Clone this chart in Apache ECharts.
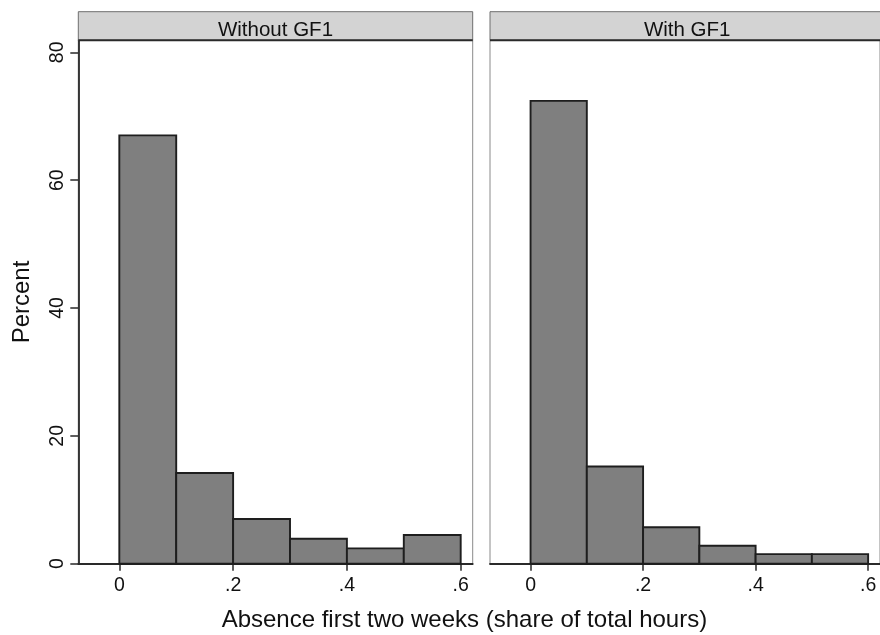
<!DOCTYPE html>
<html>
<head>
<meta charset="utf-8">
<script src="https://cdn.jsdelivr.net/npm/echarts@6/dist/echarts.min.js"></script>
<style>
html,body{margin:0;padding:0;background:#fff;}
#chart{width:880px;height:635px;}
</style>
</head>
<body>
<div id="chart"></div>
<script>
// ---- data ----
const binEdges = [0, 0.1, 0.2, 0.3, 0.4, 0.5, 0.6];
const panelTitles = ['Without GF1', 'With GF1'];
const pctWithoutGF1 = [67.0, 14.2, 7.0, 3.9, 2.4, 4.5];
const pctWithGF1 = [72.4, 15.2, 5.7, 2.8, 1.5, 1.5];
const xTicks = [0, 0.2, 0.4, 0.6];
const xTickLabels = ['0', '.2', '.4', '.6'];
const yTicks = [0, 20, 40, 60, 80];
const yTickLabels = ['0', '20', '40', '60', '80'];
const xTitle = 'Absence first two weeks (share of total hours)';
const yTitle = 'Percent';

// ---- layout ----
const FONT = '"Liberation Sans", Arial, sans-serif';
const gridTop = 40.3, gridH = 523.4, gridW = 394.4;
const gridLefts = [78.3, 490];
const headerTop = 11.7;
const xMin = -0.0721, xMax = 0.6211, yMax = 81.88;

function toBins(vals) {
  return vals.map((v, i) => [binEdges[i], binEdges[i + 1], v]);
}
function labelFor(ticks, labels, v) {
  let best = 0;
  for (let i = 1; i < ticks.length; i++) {
    if (Math.abs(ticks[i] - v) < Math.abs(ticks[best] - v)) best = i;
  }
  return labels[best];
}

const chart = echarts.init(document.getElementById('chart'), null, {renderer: 'canvas'});

const grids = gridLefts.map(l => ({
  left: l, top: gridTop, width: gridW, height: gridH,
  show: true, borderColor: '#8a8a8a', borderWidth: 1, backgroundColor: '#fff'
}));

const xAxes = gridLefts.map((l, i) => ({
  type: 'value', gridIndex: i, min: xMin, max: xMax,
  axisLine: {show: true, onZero: false, lineStyle: {color: '#2a2a2a', width: 1.8}},
  axisTick: {show: true, length: 7, customValues: xTicks, lineStyle: {color: '#2a2a2a', width: 1.5}},
  axisLabel: {show: true, customValues: xTicks, margin: 12, color: '#111', fontSize: 19.5, fontFamily: FONT,
    formatter: v => labelFor(xTicks, xTickLabels, v)},
  splitLine: {show: false}
}));

const yAxes = [
  {
    type: 'value', gridIndex: 0, min: 0, max: yMax,
    name: yTitle, nameLocation: 'middle', nameGap: 44, nameRotate: 90,
    nameTextStyle: {fontSize: 24, color: '#111', fontFamily: FONT},
    axisLine: {show: true, onZero: false, lineStyle: {color: '#2a2a2a', width: 1.8}},
    axisTick: {show: true, length: 8, customValues: yTicks, lineStyle: {color: '#2a2a2a', width: 1.5}},
    axisLabel: {show: true, rotate: 90, customValues: yTicks, margin: 11, color: '#111', fontSize: 19.5, fontFamily: FONT,
      formatter: v => labelFor(yTicks, yTickLabels, v)},
    splitLine: {show: false}
  },
  {
    type: 'value', gridIndex: 1, min: 0, max: yMax,
    axisLine: {show: false}, axisTick: {show: false}, axisLabel: {show: false}, splitLine: {show: false}
  }
];

function renderBar(params, api) {
  const x0 = api.value(0), x1 = api.value(1), y = api.value(2);
  const p0 = api.coord([x0, 0]);
  const p1 = api.coord([x1, y]);
  return {
    type: 'rect',
    shape: {x: p0[0], y: p1[1], width: p1[0] - p0[0], height: p0[1] - p1[1]},
    style: {fill: '#7f7f7f', stroke: '#1e1e1e', lineWidth: 1.9}
  };
}

const series = [pctWithoutGF1, pctWithGF1].map((vals, i) => ({
  type: 'custom', xAxisIndex: i, yAxisIndex: i,
  renderItem: renderBar,
  encode: {x: [0, 1], y: 2},
  data: toBins(vals),
  z: 3
}));

const graphics = [];
gridLefts.forEach((l, i) => {
  graphics.push({
    type: 'rect', z: 10,
    shape: {x: l, y: headerTop, width: gridW, height: gridTop - headerTop},
    style: {fill: '#d3d3d3', stroke: '#6e6e6e', lineWidth: 1}
  });
  graphics.push({
    type: 'line', z: 11,
    shape: {x1: l, y1: gridTop, x2: l + gridW, y2: gridTop},
    style: {stroke: '#2a2a2a', lineWidth: 2}
  });
  graphics.push({
    type: 'text', z: 12,
    x: l + gridW / 2, y: 30,
    style: {text: panelTitles[i], fill: '#111', font: '20.5px ' + FONT, textAlign: 'center', textVerticalAlign: 'middle'}
  });
});
graphics.push({
  type: 'text', z: 12, x: 464.4, y: 620,
  style: {text: xTitle, fill: '#111', font: '24px ' + FONT, textAlign: 'center', textVerticalAlign: 'middle'}
});

chart.setOption({
  animation: false,
  backgroundColor: '#fff',
  grid: grids,
  xAxis: xAxes,
  yAxis: yAxes,
  series: series,
  graphic: graphics
});
</script>
</body>
</html>
